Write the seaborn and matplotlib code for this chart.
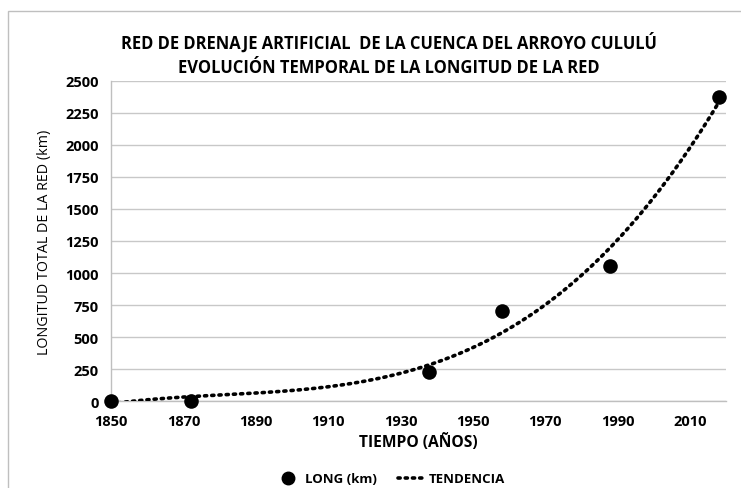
import numpy as np
import pandas as pd
import seaborn as sns
import matplotlib.pyplot as plt
from matplotlib.patches import Rectangle
from matplotlib.lines import Line2D

# Network length by survey year
years = [1850, 1872, 1938, 1958, 1988, 2018]
length_km = [0, 0, 225, 703, 1057, 2375]
x_ticks = [1850, 1870, 1890, 1910, 1930, 1950, 1970, 1990, 2010]
y_ticks = [0, 250, 500, 750, 1000, 1250, 1500, 1750, 2000, 2250, 2500]

title = "RED DE DRENAJE ARTIFICIAL  DE LA CUENCA DEL ARROYO CULULÚ\nEVOLUCIÓN TEMPORAL DE LA LONGITUD DE LA RED"

sns.set_theme(style="white")
plt.rcParams['font.family'] = ['Open Sans', 'DejaVu Sans']
plt.rcParams['text.color'] = 'black'
plt.rcParams['axes.labelcolor'] = 'black'
plt.rcParams['xtick.color'] = 'black'
plt.rcParams['ytick.color'] = 'black'

df = pd.DataFrame({"year": years, "km": length_km})

# Third-order polynomial trend through the observations
coef = np.polyfit(df["year"], df["km"], 3)
tx = np.linspace(1850, 2018, 400)
trend = pd.DataFrame({"year": tx, "km": np.polyval(coef, tx)})

W, H = 741, 489
fig = plt.figure(figsize=(W / 100, H / 100), dpi=100)
ax = fig.add_axes([111 / W, 1 - 402 / H, (726 - 111) / W, (402 - 82) / H])

# Chart frame
fig.patches.append(Rectangle((8 / W, -0.1), 1.2, 1 - 12 / H + 0.1, transform=fig.transFigure,
                             fill=False, edgecolor='#bfbfbf', linewidth=1.0))

dots = (0, (0.6, 1.4))
sns.lineplot(data=trend, x="year", y="km", ax=ax, color='black', linewidth=2.6,
             linestyle=dots, dash_capstyle='round', zorder=3)
sns.scatterplot(data=df, x="year", y="km", ax=ax, color='black', s=110,
                edgecolor='black', linewidth=0, zorder=4, clip_on=False)

ax.set_xlim(1850, 2020)
ax.set_ylim(0, 2500)
ax.set_xticks(x_ticks)
ax.set_yticks(y_ticks)
ax.grid(axis='y', color='#c8c8c8', linewidth=1.0)
ax.set_axisbelow(True)
for s in ['top', 'right']:
    ax.spines[s].set_visible(False)
for s in ['left', 'bottom']:
    ax.spines[s].set_color('#bfbfbf')
    ax.spines[s].set_linewidth(1.0)
ax.tick_params(axis='x', direction='out', length=6, color='#bfbfbf', width=1, pad=3, labelcolor='black')
ax.tick_params(axis='y', direction='out', length=5, color='#bfbfbf', width=1, pad=4, labelcolor='black')
for lab in ax.get_xticklabels() + ax.get_yticklabels():
    lab.set_fontweight('bold')
    lab.set_fontsize(10.5)

ax.set_xlabel("TIEMPO (AÑOS)", fontsize=10, fontweight='bold', labelpad=4)
ax.set_ylabel("LONGITUD TOTAL DE LA RED (km)", fontsize=10, labelpad=9)

t = fig.text(389 / W, 1 - 55 / H, title, ha='center', va='center',
             fontsize=13, fontweight='bold', linespacing=1.45, color='black')

handles = [
    Line2D([], [], marker='o', color='black', linestyle='none', markersize=9),
    Line2D([], [], color='black', linewidth=2.6, linestyle=dots, dash_capstyle='round'),
]
leg = fig.legend(handles, ["LONG (km)", "TENDENCIA"], loc='center', bbox_to_anchor=(390 / W, 1 - 480 / H),
                 ncol=2, frameon=False, prop={'weight': 'bold', 'size': 9.5},
                 handlelength=2.0, handletextpad=0.3, columnspacing=1.6)

# Size the headings to their printed widths
fig.canvas.draw()
r = fig.canvas.get_renderer()
w = t.get_window_extent(r).width
t.set_fontsize(13 * 533 / w)
yl = ax.yaxis.label
h = yl.get_window_extent(r).height
yl.set_fontsize(10 * 225 / h)
xl = ax.xaxis.label
w = xl.get_window_extent(r).width
xl.set_fontsize(10 * 119 / w)

fig.savefig("out.png", dpi=100)
